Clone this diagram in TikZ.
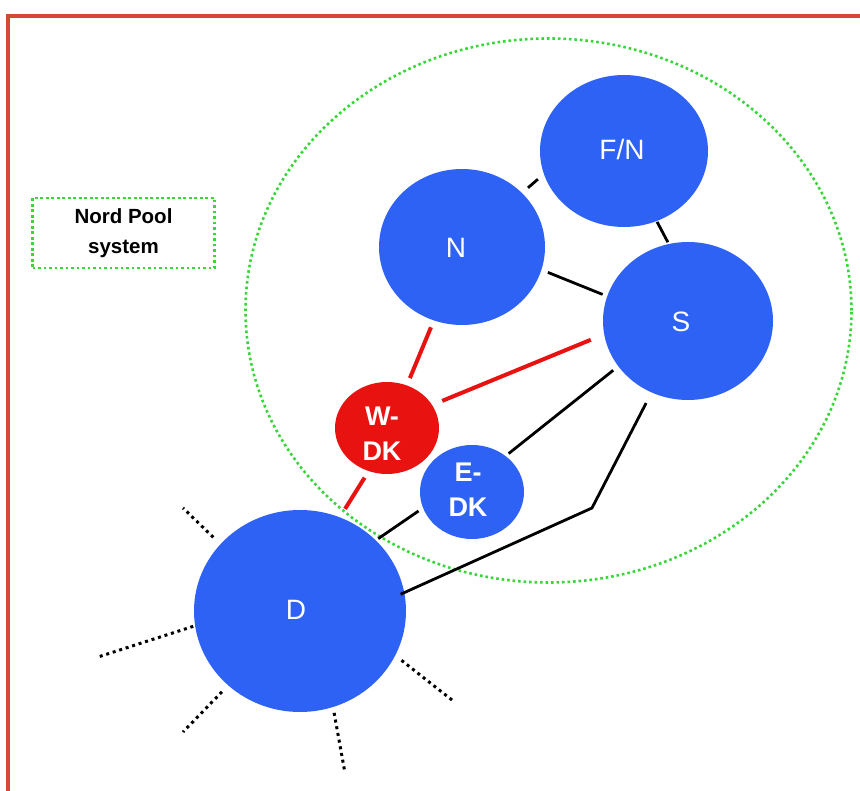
\documentclass[tikz,border=0pt]{standalone}
\usepackage{fontspec}
\setmainfont{Liberation Sans}
\usetikzlibrary{shapes.geometric}

\definecolor{zoneblue}{RGB}{46,98,245}
\definecolor{zonered}{RGB}{232,18,16}
\definecolor{framered}{RGB}{217,70,56}
\definecolor{poolgreen}{RGB}{55,215,55}

\tikzset{
  zone/.style={ellipse, inner sep=0pt, outer sep=0pt, fill=zoneblue},
  redzone/.style={zone, fill=zonered},
  ztext/.style={text=white, font=\fontsize{28}{34}\selectfont, inner sep=0pt},
  dktext/.style={text=white, font=\bfseries\fontsize{27}{35}\selectfont, align=center, inner sep=0pt},
  greendots/.style={draw=poolgreen, line width=2.6pt, dash pattern=on 2.6pt off 2.9pt},
  link/.style={draw=black, line width=2.8pt},
  redlink/.style={draw=zonered, line width=4pt},
  spoke/.style={draw=black, line width=3pt, dash pattern=on 3pt off 3.8pt},
  frame/.style={draw=framered, line width=4.5pt}
}

\begin{document}
\begin{tikzpicture}[x=1pt,y=-1pt]
  \useasboundingbox (0,0) rectangle (860,791);
  \fill[white] (0,0) rectangle (860,791);

  % outer frame (top and left edges)
  \draw[frame] (8,795) -- (8,16) -- (865,16);

  % legend box
  \node[greendots, rectangle, minimum width=182, minimum height=70, inner sep=0pt,
        font=\bfseries\fontsize{20.5}{30}\selectfont, align=center] (legend) at (123.5,233)
        {Nord Pool\\system};

  % price areas
  \node[zone, minimum width=168, minimum height=152,
        label={[ztext, xshift=-2pt, yshift=2pt]center:F/N}] (FN) at (624,151) {};
  \node[zone, minimum width=166, minimum height=156,
        label={[ztext, xshift=-6pt, yshift=-1pt]center:N}] (N) at (462,247) {};
  \node[zone, minimum width=170, minimum height=158,
        label={[ztext, xshift=-7pt, yshift=-1pt]center:S}] (S) at (688,321) {};
  \node[redzone, minimum width=104, minimum height=92,
        label={[dktext, xshift=-5pt, yshift=-6pt]center:W-\\DK}] (WDK) at (387,428) {};
  \node[zone, minimum width=104, minimum height=94,
        label={[dktext, xshift=-4pt, yshift=2pt]center:E-\\DK}] (EDK) at (472,492) {};
  \node[zone, minimum width=212, minimum height=202,
        label={[ztext, xshift=-4pt, yshift=1pt]center:D}] (D) at (300,611) {};

  % Nord Pool region
  \node[greendots, ellipse, inner sep=0pt, minimum width=606, minimum height=544] (pool) at (548.5,310.5) {};

  % interconnections
  \draw[link, shorten <=8pt, shorten >=8pt] (N.42.7) -- (FN.196.6);
  \draw[link, shorten <=1pt, shorten >=2pt] (FN.-65.1) -- (S.104.9);
  \draw[link, shorten <=7pt, shorten >=5pt] (N.-16.8) -- (S.163.2);
  \draw[redlink, shorten <=7.5pt, shorten >=8pt] (N.-111.8) -- (WDK.65.3);
  \draw[redlink, shorten <=14.5pt, shorten >=11pt] (S.189.3) -- (WDK.27);
  \draw[link, shorten <=6.5pt, shorten >=4pt] (S.213.2) -- (EDK.47.3);
  \draw[link, shorten <=5.5pt, shorten >=3pt] (EDK.198.4) -- (D.43.1);
  \draw[redlink, shorten <=7.8pt, shorten >=10pt] (WDK.-113.7) -- (D.67.3);
  \coordinate (bend) at (592,508);
  \draw[link, line join=miter, shorten <=12pt, shorten >=-4pt] (S.-117.7) -- (bend) -- (D.10.2);

  % links leaving the system
  \coordinate (out1) at (183,508);
  \coordinate (out2) at (98,657);
  \coordinate (out3) at (183,732);
  \coordinate (out4) at (345,773);
  \coordinate (out5) at (452,700);
  \draw[spoke, shorten <=10pt] (D.140.3) -- (out1);
  \draw[spoke, shorten <=2pt] (D.188.5) -- (out2);
  \draw[spoke, shorten <=9pt] (D.226.8) -- (out3);
  \draw[spoke, shorten <=6pt] (D.-71.1) -- (out4);
  \draw[spoke, shorten <=8pt] (D.-25.7) -- (out5);
\end{tikzpicture}
\end{document}
